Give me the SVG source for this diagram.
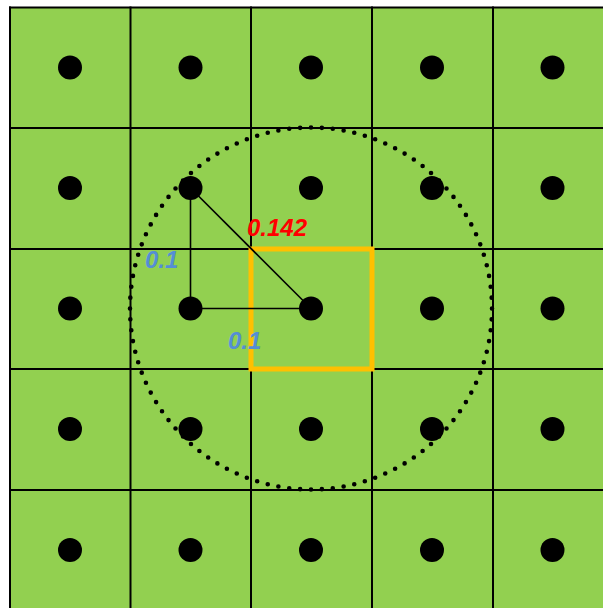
<svg xmlns="http://www.w3.org/2000/svg" width="603" height="608" viewBox="0 0 603 608">
<style>
.grid line{stroke:#000;stroke-width:2}
.dot{fill:#000}
.lbl{font-family:"Liberation Sans",Arial,sans-serif;font-weight:bold;font-style:italic;font-size:24px}
.conn line{stroke:#000;stroke-width:1.6}
</style>
<rect x="0" y="0" width="603" height="608" fill="#fff"/>
<g id="board">
<rect x="10" y="7.5" width="600" height="610" fill="#92D050"/>
<g class="grid">
<line x1="10" y1="6.5" x2="10" y2="608"/>
<line x1="130.5" y1="6.5" x2="130.5" y2="608"/>
<line x1="251" y1="6.5" x2="251" y2="608"/>
<line x1="372" y1="6.5" x2="372" y2="608"/>
<line x1="493" y1="6.5" x2="493" y2="608"/>
<line x1="9" y1="7.5" x2="603" y2="7.5"/>
<line x1="9" y1="128" x2="603" y2="128"/>
<line x1="9" y1="249" x2="603" y2="249"/>
<line x1="9" y1="369" x2="603" y2="369"/>
<line x1="9" y1="490" x2="603" y2="490"/>
</g>
</g>
<g id="highlight">
<rect x="251" y="249" width="121" height="120" fill="none" stroke="#FFC000" stroke-width="5"/>
</g>
<g id="range">
<circle cx="311" cy="308.5" r="181" fill="none" stroke="#000" stroke-width="4.6" stroke-linecap="round" pathLength="104" stroke-dasharray="0 1"/>
</g>
<g id="connectors" class="conn">
<line x1="190.5" y1="188" x2="190.5" y2="308.5"/>
<line x1="190.5" y1="308.5" x2="311" y2="308.5"/>
<line x1="190.5" y1="188" x2="311" y2="308.5"/>
</g>
<g id="points">
<circle class="dot" cx="70" cy="67.5" r="12"/><circle class="dot" cx="190.5" cy="67.5" r="12"/><circle class="dot" cx="311" cy="67.5" r="12"/><circle class="dot" cx="432" cy="67.5" r="12"/><circle class="dot" cx="552.5" cy="67.5" r="12"/>
<circle class="dot" cx="70" cy="188" r="12"/><circle class="dot" cx="190.5" cy="188" r="12"/><circle class="dot" cx="311" cy="188" r="12"/><circle class="dot" cx="432" cy="188" r="12"/><circle class="dot" cx="552.5" cy="188" r="12"/>
<circle class="dot" cx="70" cy="308.5" r="12"/><circle class="dot" cx="190.5" cy="308.5" r="12"/><circle class="dot" cx="311" cy="308.5" r="12"/><circle class="dot" cx="432" cy="308.5" r="12"/><circle class="dot" cx="552.5" cy="308.5" r="12"/>
<circle class="dot" cx="70" cy="429" r="12"/><circle class="dot" cx="190.5" cy="429" r="12"/><circle class="dot" cx="311" cy="429" r="12"/><circle class="dot" cx="432" cy="429" r="12"/><circle class="dot" cx="552.5" cy="429" r="12"/>
<circle class="dot" cx="70" cy="550" r="12"/><circle class="dot" cx="190.5" cy="550" r="12"/><circle class="dot" cx="311" cy="550" r="12"/><circle class="dot" cx="432" cy="550" r="12"/><circle class="dot" cx="552.5" cy="550" r="12"/>
</g>
<g id="labels">
<text class="lbl" x="247" y="236" fill="#FF0000">0.142</text>
<text class="lbl" x="145" y="268" fill="#558ED5">0.1</text>
<text class="lbl" x="228" y="349" fill="#558ED5">0.1</text>
</g>
</svg>
